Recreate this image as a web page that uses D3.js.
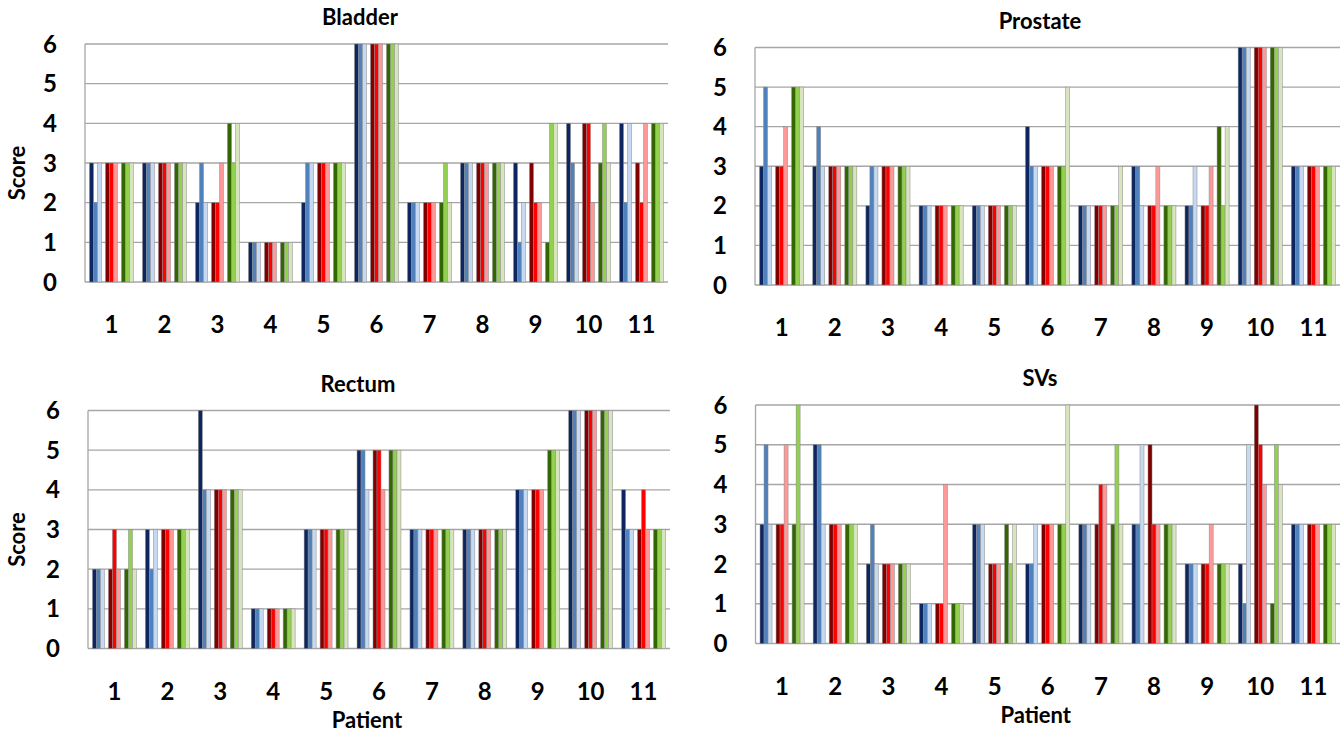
<!DOCTYPE html>
<html>
<head>
<meta charset="utf-8">
<script src="https://cdn.jsdelivr.net/npm/d3@7"></script>
<style>
    body { margin: 0; background: #fff; }
    text { font-family: Lato, "Open Sans", sans-serif; font-weight: bold; fill: #000; }
</style>
</head>
<body>
<svg id="chart" width="1344" height="733"></svg>
<script>
const PATIENTS = ["1", "2", "3", "4", "5", "6", "7", "8", "9", "10", "11"];
const Y_TICKS = [0, 1, 2, 3, 4, 5, 6];
const SERIES_COLOURS = ["#0e2660", "#4f81bd", "#c6d9f1", "#800000", "#ff0000", "#ff9999", "#336600", "#92d050", "#d7e4bd"];
// slot of each series inside a patient group (gaps at 3 and 7)
const SERIES_SLOTS = [0, 1, 2, 4, 5, 6, 8, 9, 10];

// one row per series, one value per patient
const BLADDER = [
    [3, 3, 2, 1, 2, 6, 2, 3, 3, 4, 4],
    [2, 3, 3, 1, 3, 6, 2, 3, 1, 3, 2],
    [3, 3, 2, 1, 3, 6, 2, 3, 2, 2, 4],
    [3, 3, 2, 1, 3, 6, 2, 3, 3, 4, 3],
    [3, 3, 2, 1, 3, 6, 2, 3, 2, 4, 2],
    [3, 3, 3, 1, 3, 6, 2, 3, 2, 2, 4],
    [3, 3, 4, 1, 3, 6, 2, 3, 1, 3, 4],
    [3, 3, 3, 1, 3, 6, 3, 3, 4, 4, 4],
    [3, 3, 4, 1, 3, 6, 2, 3, 4, 3, 4]
];
const PROSTATE = [
    [3, 3, 2, 2, 2, 4, 2, 3, 2, 6, 3],
    [5, 4, 3, 2, 2, 3, 2, 3, 2, 6, 3],
    [3, 3, 3, 2, 2, 3, 2, 2, 3, 6, 3],
    [3, 3, 3, 2, 2, 3, 2, 2, 2, 6, 3],
    [3, 3, 3, 2, 2, 3, 2, 2, 2, 6, 3],
    [4, 3, 3, 2, 2, 3, 2, 3, 3, 6, 3],
    [5, 3, 3, 2, 2, 3, 2, 2, 4, 6, 3],
    [5, 3, 3, 2, 2, 3, 2, 2, 2, 6, 3],
    [5, 3, 3, 2, 2, 5, 3, 2, 4, 6, 3]
];
const RECTUM = [
    [2, 3, 6, 1, 3, 5, 3, 3, 4, 6, 4],
    [2, 2, 4, 1, 3, 5, 3, 3, 4, 6, 3],
    [2, 3, 4, 1, 3, 4, 3, 3, 4, 6, 3],
    [2, 3, 4, 1, 3, 5, 3, 3, 4, 6, 3],
    [3, 3, 4, 1, 3, 5, 3, 3, 4, 6, 4],
    [2, 3, 4, 1, 3, 4, 3, 3, 4, 6, 3],
    [2, 3, 4, 1, 3, 5, 3, 3, 5, 6, 3],
    [3, 3, 4, 1, 3, 5, 3, 3, 5, 6, 3],
    [2, 3, 4, 1, 3, 5, 3, 3, 5, 6, 3]
];
const SVS = [
    [3, 5, 2, 1, 3, 2, 3, 3, 2, 2, 3],
    [5, 5, 3, 1, 3, 2, 3, 3, 2, 1, 3],
    [3, 3, 2, 1, 3, 3, 3, 5, 2, 5, 3],
    [3, 3, 2, 1, 2, 3, 3, 5, 2, 6, 3],
    [3, 3, 2, 1, 2, 3, 4, 3, 2, 5, 3],
    [5, 3, 2, 4, 2, 3, 4, 3, 3, 4, 3],
    [3, 3, 2, 1, 3, 3, 3, 3, 2, 1, 3],
    [6, 3, 2, 1, 2, 3, 5, 3, 2, 5, 3],
    [3, 3, 2, 1, 3, 6, 3, 3, 2, 4, 3]
];

const PANELS = [
    {title: "Bladder", data: BLADDER, x0: 85, x1: 668, y0: 44, y1: 282, titleX: 360, score: true, patient: false},
    {title: "Prostate", data: PROSTATE, x0: 755, x1: 1340, y0: 47.5, y1: 285, titleX: 1040, score: false, patient: false},
    {title: "Rectum", data: RECTUM, x0: 88, x1: 670, y0: 410.5, y1: 648.5, titleX: 358, score: true, patient: true},
    {title: "SVs", data: SVS, x0: 755.5, x1: 1340, y0: 405, y1: 643.5, titleX: 1040, score: false, patient: true}
];
const GRID_COLOUR = "#a6a6a6";

function drawPanel(svg, p) {
    let g = svg.append("g");

    let x = d3.scaleBand()
        .domain(PATIENTS)
        .range([p.x0, p.x1])
        .paddingInner(0.17)
        .paddingOuter(0.085);
    let slot = d3.scaleBand()
        .domain(d3.range(11))
        .range([0, x.bandwidth()]);
    let y = d3.scaleLinear()
        .domain([0, 6])
        .range([p.y1, p.y0]);

    // gridlines
    g.selectAll(".grid")
        .data(Y_TICKS)
        .join("line")
        .attr("x1", p.x0)
        .attr("x2", p.x1)
        .attr("y1", d => y(d))
        .attr("y2", d => y(d))
        .attr("stroke", GRID_COLOUR)
        .attr("stroke-width", 1.3);

    g.append("line")
        .attr("x1", p.x0).attr("x2", p.x0)
        .attr("y1", p.y0).attr("y2", p.y1)
        .attr("stroke", GRID_COLOUR)
        .attr("stroke-width", 1.3);

    // bars
    p.data.forEach((series, s) => {
        g.append("g")
            .selectAll("rect")
            .data(series)
            .join("rect")
            .attr("x", (d, i) => x(PATIENTS[i]) + slot(SERIES_SLOTS[s]))
            .attr("width", slot.bandwidth())
            .attr("y", d => y(d))
            .attr("height", d => y(0) - y(d))
            .attr("fill", SERIES_COLOURS[s])
            .attr("stroke", "#8a8a8a")
            .attr("stroke-width", 0.5);
    });

    // y tick labels
    g.selectAll(".ytick")
        .data(Y_TICKS)
        .join("text")
        .attr("x", p.x0 - 28)
        .attr("y", d => y(d) + 8.5)
        .attr("text-anchor", "end")
        .attr("font-size", 24)
        .text(d => d);

    // x tick labels
    g.selectAll(".xtick")
        .data(PATIENTS)
        .join("text")
        .attr("x", d => x(d) + x.bandwidth() / 2)
        .attr("y", p.y1 + 51)
        .attr("text-anchor", "middle")
        .attr("font-size", 24)
        .text(d => d);

    g.append("text")
        .attr("x", p.titleX)
        .attr("y", p.y0 - 19)
        .attr("text-anchor", "middle")
        .attr("font-size", 22)
        .text(p.title);

    if (p.score) {
        let cy = (p.y0 + p.y1) / 2 + 10;
        g.append("text")
            .attr("transform", `translate(25,${cy}) rotate(-90)`)
            .attr("text-anchor", "middle")
            .attr("font-size", 22)
            .text("Score");
    }

    if (p.patient) {
        g.append("text")
            .attr("x", (p.x0 + p.x1) / 2 - 12)
            .attr("y", p.y1 + 79)
            .attr("text-anchor", "middle")
            .attr("font-size", 22)
            .text("Patient");
    }
}

let svg = d3.select("#chart");
PANELS.forEach(p => drawPanel(svg, p));
</script>
</body>
</html>
